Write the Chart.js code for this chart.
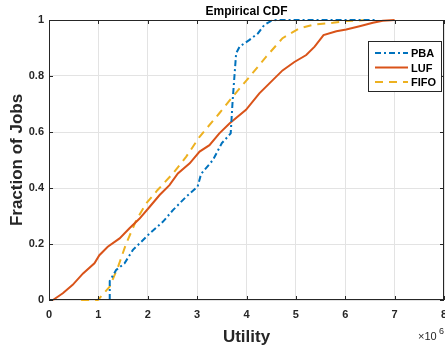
<!DOCTYPE html>
<html>
<head>
<meta charset="utf-8">
<script src="https://cdn.jsdelivr.net/npm/chart.js@4.4.0/dist/chart.umd.min.js"></script>
<style>
  html, body { margin: 0; padding: 0; background: #fff; }
  #wrap { width: 445px; height: 351px; position: relative; }
</style>
</head>
<body>
<div id="wrap"><canvas id="cdfChart"></canvas></div>
<script>
// Utility values are in units of 10^6
const pbaX = [1.23, 1.23, 1.36, 1.53, 1.70, 1.87, 2.04, 2.31, 2.51, 2.78, 3.01, 3.08, 3.32, 3.50, 3.68, 3.72, 3.79, 3.86, 4.06, 4.23, 4.36, 4.50, 4.60, 6.60];
const pbaY = [0, 0.068, 0.107, 0.131, 0.179, 0.208, 0.238, 0.280, 0.321, 0.369, 0.405, 0.450, 0.500, 0.560, 0.595, 0.714, 0.881, 0.905, 0.929, 0.952, 0.982, 0.997, 1.0, 1.0];

const lufX = [0.08, 0.28, 0.48, 0.69, 0.92, 1.02, 1.19, 1.43, 1.63, 1.83, 2.04, 2.24, 2.44, 2.61, 2.85, 3.05, 3.25, 3.45, 3.66, 3.99, 4.26, 4.50, 4.73, 4.97, 5.21, 5.38, 5.56, 5.82, 6.02, 6.29, 6.56, 6.76, 7.00];
const lufY = [0, 0.024, 0.054, 0.095, 0.131, 0.160, 0.190, 0.220, 0.256, 0.290, 0.333, 0.375, 0.410, 0.452, 0.488, 0.530, 0.553, 0.595, 0.631, 0.679, 0.738, 0.780, 0.820, 0.850, 0.875, 0.905, 0.946, 0.960, 0.966, 0.978, 0.990, 0.997, 1.0];

const fifoX = [0.65, 0.99, 1.23, 1.40, 1.56, 1.77, 1.97, 2.20, 2.51, 2.78, 3.05, 3.45, 3.72, 4.06, 4.40, 4.73, 5.07, 5.38, 5.75, 6.02, 6.42];
const fifoY = [0, 0, 0.048, 0.119, 0.200, 0.286, 0.345, 0.393, 0.452, 0.512, 0.583, 0.667, 0.726, 0.797, 0.869, 0.935, 0.970, 0.984, 0.990, 0.996, 1.0];

const seriesNames = ['PBA', 'LUF', 'FIFO'];
const xTicks = [0, 1, 2, 3, 4, 5, 6, 7, 8];
const yTicks = [0, 0.2, 0.4, 0.6, 0.8, 1];
const yTickLabels = ['0', '0.2', '0.4', '0.6', '0.8', '1'];

const toPoints = (xs, ys) => xs.map((x, i) => ({ x: x, y: ys[i] }));

const FONT = '"Liberation Sans", Arial, Helvetica, sans-serif';
const AXIS_COLOR = '#262626';

// title, box, inward ticks, legend and exponent label
const decorPlugin = {
    id: 'decor',
    afterDraw(chart) {
        const ctx = chart.ctx;
        const area = chart.chartArea;
        const xs = chart.scales.x;
        const ys = chart.scales.y;
        ctx.save();

        // box around axes
        ctx.strokeStyle = AXIS_COLOR;
        ctx.lineWidth = 1;
        ctx.strokeRect(area.left + 0.5, area.top + 0.5, area.right - area.left - 1, area.bottom - area.top - 1);

        // inward ticks on all sides
        ctx.beginPath();
        xTicks.forEach(v => {
            const px = Math.round(xs.getPixelForValue(v)) + 0.5;
            ctx.moveTo(px, area.bottom); ctx.lineTo(px, area.bottom - 4);
            ctx.moveTo(px, area.top); ctx.lineTo(px, area.top + 4);
        });
        yTicks.forEach(v => {
            const py = Math.round(ys.getPixelForValue(v)) + 0.5;
            ctx.moveTo(area.left, py); ctx.lineTo(area.left + 4, py);
            ctx.moveTo(area.right, py); ctx.lineTo(area.right - 4, py);
        });
        ctx.stroke();

        // title
        ctx.fillStyle = '#000';
        ctx.font = 'bold 12px ' + FONT;
        ctx.textAlign = 'center';
        ctx.textBaseline = 'alphabetic';
        ctx.fillText('Empirical CDF', (area.left + area.right) / 2, 15);

        // exponent label
        ctx.fillStyle = AXIS_COLOR;
        ctx.textAlign = 'left';
        ctx.font = '11px ' + FONT;
        ctx.fillText('\u00d710', 418, 340);
        ctx.font = '9px ' + FONT;
        ctx.fillText('6', 439, 334);

        // legend
        const lx = 368, ly = 41, lw = 73, lh = 50;
        ctx.fillStyle = '#fff';
        ctx.fillRect(lx, ly, lw, lh);
        ctx.strokeStyle = '#262626';
        ctx.lineWidth = 1;
        ctx.strokeRect(lx + 0.5, ly + 0.5, lw, lh);
        chart.data.datasets.forEach((ds, i) => {
            const yy = ly + 12 + i * 14.5;
            ctx.strokeStyle = ds.borderColor;
            ctx.lineWidth = 2;
            ctx.setLineDash(ds.borderDash || []);
            ctx.beginPath();
            ctx.moveTo(lx + 7, yy);
            ctx.lineTo(lx + 40, yy);
            ctx.stroke();
            ctx.setLineDash([]);
            ctx.fillStyle = '#000';
            ctx.font = 'bold 11px ' + FONT;
            ctx.textBaseline = 'middle';
            ctx.fillText(ds.label, lx + 43, yy + 1);
        });
        ctx.restore();
    }
};

const chart = new Chart(document.getElementById('cdfChart'), {
    type: 'line',
    data: {
        datasets: [{
            label: seriesNames[0],
            data: toPoints(pbaX, pbaY),
            borderColor: '#0072BD',
            borderWidth: 2,
            borderDash: [6, 3, 2, 3],
            pointRadius: 0,
            tension: 0,
            clip: 3
        }, {
            label: seriesNames[1],
            data: toPoints(lufX, lufY),
            borderColor: '#D95319',
            borderWidth: 2,
            pointRadius: 0,
            tension: 0,
            clip: 3
        }, {
            label: seriesNames[2],
            data: toPoints(fifoX, fifoY),
            borderColor: '#EDB120',
            borderWidth: 2,
            borderDash: [8, 6],
            pointRadius: 0,
            tension: 0,
            clip: 3
        }]
    },
    options: {
        responsive: true,
        maintainAspectRatio: false,
        animation: false,
        layout: { padding: { top: 20, right: 1, left: 0, bottom: 0 } },
        plugins: {
            legend: { display: false },
            title: { display: false },
            tooltip: { enabled: false }
        },
        scales: {
            x: {
                type: 'linear',
                min: 0,
                max: 8,
                afterFit: scale => {
                    scale.height = 51;
                    scale.paddingLeft = 0;
                    scale.paddingRight = 0;
                },
                ticks: {
                    stepSize: 1,
                    color: AXIS_COLOR,
                    padding: 8,
                    maxRotation: 0,
                    font: { family: FONT, size: 11, weight: 'bold' }
                },
                grid: { color: '#e3e3e3', drawTicks: false },
                border: { display: false },
                title: {
                    display: true,
                    text: 'Utility',
                    color: AXIS_COLOR,
                    padding: { top: 2, bottom: 3 },
                    font: { family: FONT, size: 17, weight: 'bold' }
                }
            },
            y: {
                min: 0,
                max: 1,
                afterFit: scale => { scale.width = 49; },
                afterBuildTicks: scale => { scale.ticks = yTicks.map(v => ({ value: v })); },
                ticks: {
                    color: AXIS_COLOR,
                    padding: 5,
                    callback: (value, index) => yTickLabels[index],
                    font: { family: FONT, size: 11, weight: 'bold' }
                },
                grid: { color: '#e3e3e3', drawTicks: false },
                border: { display: false },
                title: {
                    display: true,
                    text: 'Fraction of Jobs',
                    color: AXIS_COLOR,
                    padding: { top: 7, bottom: 0 },
                    font: { family: FONT, size: 17, weight: 'bold' }
                }
            }
        }
    },
    plugins: [decorPlugin]
});
</script>
</body>
</html>
